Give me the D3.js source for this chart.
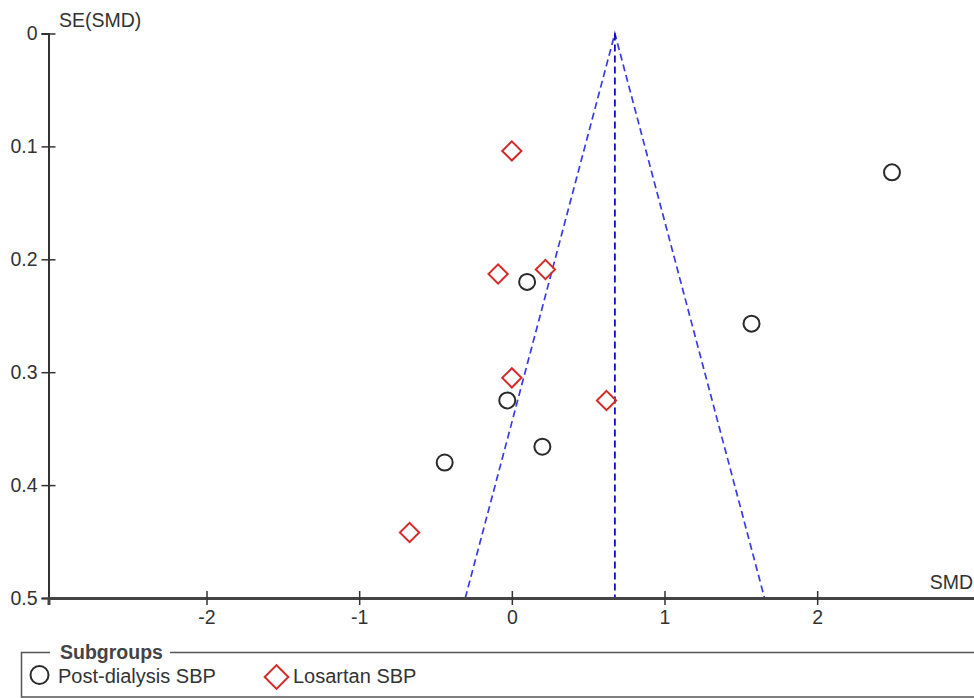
<!DOCTYPE html>
<html>
<head>
<meta charset="utf-8">
<script src="https://cdn.jsdelivr.net/npm/d3@7"></script>
<style>
  body { margin: 0; background: #fff; }
  svg { display: block; font-family: "Liberation Sans", Arial, sans-serif; }
  .tick text { font-size: 19.5px; fill: #333; }
</style>
</head>
<body>
<svg width="974" height="698"></svg>
<script>
// study estimates
const postDialysisSMD = [2.49, 0.10, 1.57, -0.03, 0.20, -0.44];
const postDialysisSE  = [0.123, 0.220, 0.257, 0.325, 0.366, 0.380];
const losartanSMD = [0.00, -0.09, 0.22, 0.00, 0.62, -0.67];
const losartanSE  = [0.104, 0.213, 0.209, 0.305, 0.325, 0.442];
const pooledSMD = 0.675;
const xTicks = [-2, -1, 0, 1, 2];
const yTicks = [0, 0.1, 0.2, 0.3, 0.4, 0.5];
const subgroups = ["Post-dialysis SBP", "Losartan SBP"];

const svg = d3.select("svg");

const x = d3.scaleLinear().domain([-3.035, 3.06]).range([48.5, 979]);
const y = d3.scaleLinear().domain([0, 0.5]).range([33.5, 598]);

// funnel
const funnel = [[pooledSMD - 1.96 * 0.5, 0.5], [pooledSMD, 0], [pooledSMD + 1.96 * 0.5, 0.5]];
svg.append("path")
    .attr("d", d3.line().x(d => x(d[0])).y(d => y(d[1]))(funnel))
    .attr("fill", "none")
    .attr("stroke", "#3a3ae6")
    .attr("stroke-width", 1.7)
    .attr("stroke-dasharray", "7,4");

svg.append("line")
    .attr("x1", x(pooledSMD)).attr("x2", x(pooledSMD))
    .attr("y1", y(0)).attr("y2", y(0.5))
    .attr("stroke", "#0000c8")
    .attr("stroke-width", 1.7)
    .attr("stroke-dasharray", "7,4");

// axes
const yAxis = svg.append("g")
    .attr("transform", "translate(" + x.range()[0] + ",0)")
    .call(d3.axisLeft(y).tickValues(yTicks).tickSize(7).tickPadding(6).tickFormat(d => d === 0 ? "0" : d3.format(".1f")(d)));
yAxis.select(".domain").attr("stroke", "#333").attr("stroke-width", 2);
yAxis.selectAll(".tick line").attr("x2", 7).attr("x1", -7).attr("stroke", "#333").attr("stroke-width", 1.5);
yAxis.selectAll(".tick text").attr("x", -11);

const xAxis = svg.append("g")
    .attr("transform", "translate(0," + y(0.5) + ")")
    .call(d3.axisBottom(x).tickValues(xTicks).tickSize(7).tickPadding(8).tickFormat(d3.format("d")));
xAxis.select(".domain").attr("stroke", "#444").attr("stroke-width", 3);
xAxis.selectAll(".tick line").attr("y1", -7).attr("y2", 7).attr("stroke", "#333").attr("stroke-width", 1.5);
xAxis.selectAll(".tick text").attr("dy", "0.71em").attr("y", 12);
xAxis.selectAll(".tick text").text(d => d < 0 ? "-" + Math.abs(d) : d);

svg.append("text").attr("x", 59).attr("y", 27).attr("font-size", 19.5).attr("fill", "#333").text("SE(SMD)");
svg.append("text").attr("x", 973).attr("y", 589).attr("text-anchor", "end").attr("font-size", 19.5).attr("fill", "#333").text("SMD");

// points
svg.append("g").selectAll("circle")
    .data(postDialysisSMD.map((v, i) => [v, postDialysisSE[i]]))
    .join("circle")
    .attr("cx", d => x(d[0]))
    .attr("cy", d => y(d[1]))
    .attr("r", 8)
    .attr("fill", "none")
    .attr("stroke", "#2a2a2a")
    .attr("stroke-width", 2);

const diamond = d3.symbol().type(d3.symbolSquare).size(185);
svg.append("g").selectAll("path")
    .data(losartanSMD.map((v, i) => [v, losartanSE[i]]))
    .join("path")
    .attr("d", diamond)
    .attr("transform", d => "translate(" + x(d[0]) + "," + y(d[1]) + ") rotate(45)")
    .attr("fill", "none")
    .attr("stroke", "#d42a2a")
    .attr("stroke-width", 2);

// legend
const legend = svg.append("g");
legend.append("path")
    .attr("d", "M50,652.5 H21.5 V697 H980 M170,652.5 H980")
    .attr("fill", "none")
    .attr("stroke", "#555")
    .attr("stroke-width", 1.5);
legend.append("text").attr("x", 60).attr("y", 659).attr("font-size", 19.5).attr("font-weight", "bold").attr("fill", "#444").text("Subgroups");
legend.append("circle").attr("cx", 39.5).attr("cy", 675).attr("r", 9).attr("fill", "none").attr("stroke", "#2a2a2a").attr("stroke-width", 2);
legend.append("path").attr("d", d3.symbol().type(d3.symbolSquare).size(280))
    .attr("transform", "translate(276.5,677) rotate(45)")
    .attr("fill", "none").attr("stroke", "#d42a2a").attr("stroke-width", 2);
legend.append("text").attr("x", 58).attr("y", 683).attr("font-size", 20).attr("fill", "#333").text(subgroups[0]);
legend.append("text").attr("x", 293).attr("y", 683).attr("font-size", 20).attr("fill", "#333").text(subgroups[1]);
</script>
</body>
</html>
